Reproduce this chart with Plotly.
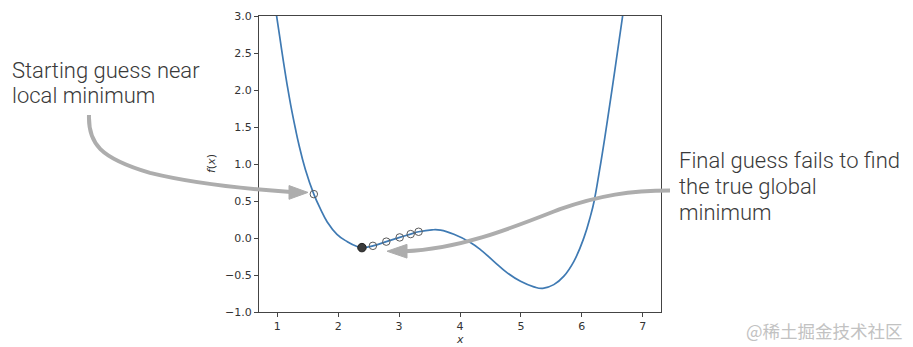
import plotly.graph_objects as go

# ---- data ----
curve_x = [0.98, 1.04, 1.10, 1.16, 1.22, 1.30, 1.35, 1.46, 1.60, 1.71, 1.82, 1.98,
           2.15, 2.31, 2.39, 2.57, 2.79, 3.01, 3.19, 3.32, 3.54, 3.68, 3.90, 4.17,
           4.34, 4.555, 4.776, 4.994, 5.213, 5.36, 5.54, 5.706, 5.87, 6.035, 6.145,
           6.20, 6.29, 6.38, 6.46, 6.54, 6.67, 6.70]
curve_y = [3.05, 2.72, 2.39, 2.08, 1.80, 1.47, 1.28, 0.93, 0.593, 0.39, 0.217, 0.05,
           -0.05, -0.115, -0.13, -0.106, -0.049, 0.008, 0.053, 0.084, 0.11, 0.106, 0.05, -0.06,
           -0.16, -0.315, -0.471, -0.585, -0.66, -0.68, -0.63, -0.515, -0.315, 0.005, 0.306,
           0.49, 0.91, 1.37, 1.81, 2.255, 3.0, 3.17]

guess_x = [1.60, 3.32, 3.19, 3.01, 2.79, 2.57]
guess_y = [0.593, 0.084, 0.053, 0.008, -0.049, -0.106]

final_x = [2.39]
final_y = [-0.13]

x_ticks = [1, 2, 3, 4, 5, 6, 7]
y_ticks = [-1.0, -0.5, 0.0, 0.5, 1.0, 1.5, 2.0, 2.5, 3.0]

label_left_lines = ["Starting guess near", "local minimum"]
label_right_lines = ["Final guess fails to find", "the true global", "minimum"]
watermark = "@稀土掘金技术社区"

# ---- layout geometry ----
W, H = 913, 347
L, R, T, B = 259, 252, 10, 35
PW, PH = W - L - R, H - T - B


def px(x):
    return (x - L) / PW


def py(y):
    return (H - B - y) / PH


def path(cmds):
    out = []
    for c in cmds:
        if isinstance(c, str):
            out.append(c)
        else:
            out.append(f"{px(c[0]):.5f},{py(c[1]):.5f}")
    return " ".join(out)


fig = go.Figure()
fig.add_trace(go.Scatter(x=curve_x, y=curve_y, mode="lines",
                         line=dict(color="#3f7ab3", width=1.7, shape="spline", smoothing=1.3),
                         hoverinfo="skip", showlegend=False, cliponaxis=True))
fig.add_trace(go.Scatter(x=guess_x, y=guess_y, mode="markers",
                         marker=dict(symbol="circle-open", size=7.5, color="#5a5a5a",
                                     line=dict(width=1)),
                         showlegend=False))
fig.add_trace(go.Scatter(x=final_x, y=final_y, mode="markers",
                         marker=dict(symbol="circle", size=8.5, color="#3a3a3a",
                                     line=dict(width=1, color="#222222")),
                         showlegend=False))

arrow_col = "#adadad"
shapes = [
    dict(type="path", xref="paper", yref="paper",
         path=path(["M", (89, 111), "C", (88, 140), (100, 155), (150, 170),
                    "C", (190, 180), (240, 186), (291, 189.5)]),
         line=dict(color=arrow_col, width=4), layer="above"),
    dict(type="path", xref="paper", yref="paper",
         path=path(["M", (308, 190), "L", (289, 183), "L", (289, 197), "Z"]),
         line=dict(color=arrow_col, width=1), fillcolor=arrow_col, layer="above"),
    dict(type="path", xref="paper", yref="paper",
         path=path(["M", (670, 188), "C", (630, 188), (600, 193), (560, 207),
                    "C", (515, 225), (460, 248), (405, 250)]),
         line=dict(color=arrow_col, width=4), layer="above"),
    dict(type="path", xref="paper", yref="paper",
         path=path(["M", (387, 250), "L", (407, 243), "L", (407, 257), "Z"]),
         line=dict(color=arrow_col, width=1), fillcolor=arrow_col, layer="above"),
]

text_font = dict(family="Roboto Light, Roboto", size=22, color="#3a3a3a", weight=300)
annotations = []
for i, line in enumerate(label_left_lines):
    annotations.append(dict(text=line, xref="paper", yref="paper", x=px(10), y=py(66 + 25.5 * i),
                            xanchor="left", yanchor="middle", align="left", showarrow=False,
                            font=text_font))
for i, line in enumerate(label_right_lines):
    annotations.append(dict(text=line, xref="paper", yref="paper", x=px(677), y=py(157 + 26.5 * i),
                            xanchor="left", yanchor="middle", align="left", showarrow=False,
                            font=text_font))
annotations += [
    dict(text=watermark, xref="paper", yref="paper", x=px(905), y=py(331),
         xanchor="right", yanchor="middle", showarrow=False,
         font=dict(family="Noto Sans CJK SC", size=17.5, color="#c2c2c2")),
    dict(text="<i>f</i>(<i>x</i>)", xref="paper", yref="paper", x=px(211), y=0.5,
         xanchor="center", yanchor="middle", textangle=-90, showarrow=False,
         font=dict(family="DejaVu Sans", size=11, color="#333333")),
    dict(text="<i>x</i>", xref="paper", yref="paper", x=0.5, y=py(340),
         xanchor="center", yanchor="middle", showarrow=False,
         font=dict(family="DejaVu Sans", size=11, color="#333333")),
]

axis_common = dict(showgrid=False, zeroline=False, showline=True, mirror=True,
                   linecolor="#444444", linewidth=1, ticks="outside", ticklen=4,
                   tickcolor="#444444", tickwidth=1,
                   tickfont=dict(family="DejaVu Sans", size=11, color="#333333"))

fig.update_layout(
    width=W, height=H,
    margin=dict(l=L, r=R, t=T, b=B, pad=0),
    paper_bgcolor="white", plot_bgcolor="white",
    xaxis=dict(range=[0.7, 7.3], tickvals=x_ticks, ticktext=[str(v) for v in x_ticks],
               **axis_common),
    yaxis=dict(range=[-1, 3], tickvals=y_ticks, tickformat=".1f", **axis_common),
    shapes=shapes, annotations=annotations, showlegend=False,
)

fig.write_html("out.html", config=dict(displayModeBar=False))
